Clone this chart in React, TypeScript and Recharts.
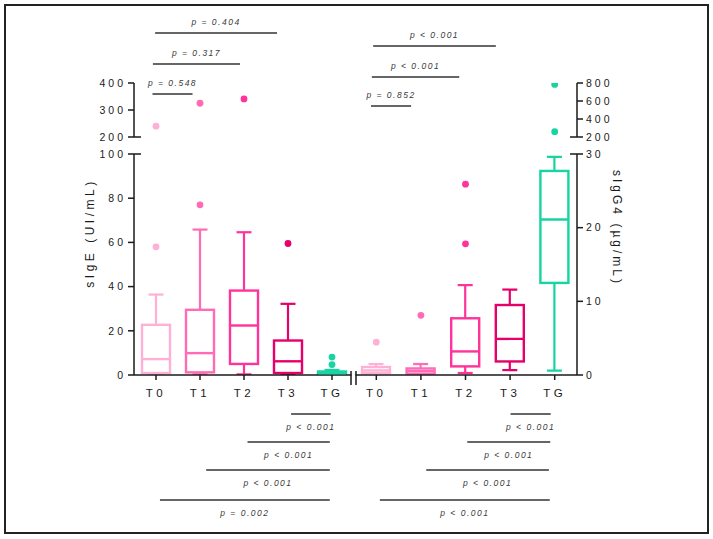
import React from 'react';
import { ComposedChart, Bar, Scatter, XAxis, YAxis, ReferenceLine } from 'recharts';

// ---------- data ----------
const categories = ['T0', 'T1', 'T2', 'T3', 'TG'];

// sIgE (UI/mL) – lower segment 0–100
const igeMin = [0, 0.3, 0.3, 0, 0];
const igeQ1 = [0.9, 1.2, 5.0, 0.9, 0.2];
const igeMedian = [7.2, 9.9, 22.4, 6.2, 0.8];
const igeQ3 = [22.7, 29.5, 38.2, 15.6, 1.6];
const igeMax = [36.4, 65.8, 64.6, 32.2, 2.3];
const igeOutlierA = [58, 77, null, 59.5, 8.1];
const igeOutlierB = [null, null, null, null, 4.7];
// sIgE – upper segment 200–400
const igeHighOutlier = [240, 325, 341, null, null];

// sIgG4 (µg/mL) – lower segment 0–30
const igg4Min = [0.27, 0.18, 0.27, 0.67, 0.6];
const igg4Q1 = [0.27, 0.18, 1.17, 1.84, 12.5];
const igg4Median = [0.62, 0.54, 3.2, 4.9, 21.1];
const igg4Q3 = [1.08, 0.89, 7.7, 9.5, 27.7];
const igg4Max = [1.49, 1.49, 12.2, 11.6, 29.6];
const igg4OutlierA = [4.46, 8.1, 25.9, null, null];
const igg4OutlierB = [null, null, 17.8, null, null];
// sIgG4 – upper segment 200–800
const igg4HighOutlierA = [null, null, null, null, 784];
const igg4HighOutlierB = [null, null, null, null, 259];

const igeLowerTicks = [0, 20, 40, 60, 80, 100];
const igeUpperTicks = [200, 300, 400];
const igg4LowerTicks = [0, 10, 20, 30];
const igg4UpperTicks = [200, 400, 600, 800];

// p-value annotations (x in category units, y = vertical level in px)
const annotLeft = [
  { from: -0.02, to: 2.75, y: 33, text: 'p = 0.404', above: true },
  { from: -0.07, to: 1.91, y: 64, text: 'p = 0.317', above: true },
  { from: -0.08, to: 0.83, y: 94, text: 'p = 0.548', above: true },
  { from: 3.07, to: 3.97, y: 414, text: 'p < 0.001', above: false },
  { from: 2.08, to: 3.95, y: 442, text: 'p < 0.001', above: false },
  { from: 1.14, to: 3.95, y: 470, text: 'p < 0.001', above: false },
  { from: 0.09, to: 3.95, y: 500, text: 'p = 0.002', above: false },
];
const annotRight = [
  { from: -0.07, to: 2.68, y: 46, text: 'p < 0.001', above: true },
  { from: -0.1, to: 1.86, y: 77, text: 'p < 0.001', above: true },
  { from: -0.12, to: 0.78, y: 106, text: 'p = 0.852', above: true },
  { from: 3.01, to: 3.91, y: 414, text: 'p < 0.001', above: false },
  { from: 2.04, to: 3.9, y: 442, text: 'p < 0.001', above: false },
  { from: 1.12, to: 3.87, y: 470, text: 'p < 0.001', above: false },
  { from: 0.08, to: 3.89, y: 500, text: 'p < 0.001', above: false },
];

// ---------- styling ----------
const W = 713;
const H = 539;
const FONT = '"Liberation Sans", Arial, Helvetica, sans-serif';
const AXIS = '#1a1a1a';
const boxColors = ['#FFB0D6', '#FF6CB5', '#FF3399', '#E6006B', '#17D4A2'];
const BAR = 30;
const CAP = 7.5;
const abs: React.CSSProperties = { position: 'absolute', left: 0, top: 0 };

const lowerRows = (min, q1, med, q3, max, oA, oB) =>
  categories.map((cat, i) => ({ cat, min: min[i], q1: q1[i], med: med[i], q3: q3[i], max: max[i], oA: oA[i], oB: oB[i] }));
const upperRows = (uA, uB) => categories.map((cat, i) => ({ cat, uA: uA[i], uB: uB ? uB[i] : null }));

const igeRows = lowerRows(igeMin, igeQ1, igeMedian, igeQ3, igeMax, igeOutlierA, igeOutlierB);
const igg4Rows = lowerRows(igg4Min, igg4Q1, igg4Median, igg4Q3, igg4Max, igg4OutlierA, igg4OutlierB);
const igeUpRows = upperRows(igeHighOutlier, null);
const igg4UpRows = upperRows(igg4HighOutlierA, igg4HighOutlierB);

const colorOf = (p: any) => boxColors[categories.indexOf(p?.cat)] ?? '#999';
const bad = (...v: any[]) => v.some((n) => n == null || Number.isNaN(n));

const HighWhisker = (props: any) => {
  const { x, y, width, height, payload } = props;
  if (bad(x, y, width, height)) return <g />;
  const top = Math.min(y, y + height);
  const bottom = Math.max(y, y + height);
  const cx = x + width / 2;
  const c = colorOf(payload);
  return (
    <g>
      <line x1={cx} x2={cx} y1={top} y2={bottom} stroke={c} strokeWidth={2.2} />
      <line x1={cx - CAP} x2={cx + CAP} y1={top} y2={top} stroke={c} strokeWidth={2.2} />
    </g>
  );
};
const LowWhisker = (props: any) => {
  const { x, y, width, height, payload } = props;
  if (bad(x, y, width, height)) return <g />;
  const top = Math.min(y, y + height);
  const bottom = Math.max(y, y + height);
  const cx = x + width / 2;
  const c = colorOf(payload);
  return (
    <g>
      <line x1={cx} x2={cx} y1={top} y2={bottom} stroke={c} strokeWidth={2.2} />
      <line x1={cx - CAP} x2={cx + CAP} y1={bottom} y2={bottom} stroke={c} strokeWidth={2.2} />
    </g>
  );
};
const BoxShape = (props: any) => {
  const { x, y, width, height, payload } = props;
  if (bad(x, y, width, height)) return <g />;
  const top = Math.min(y, y + height);
  const h = Math.abs(height);
  return <rect x={x + 1} y={top} width={width - 2} height={h} fill="#fff" stroke={colorOf(payload)} strokeWidth={2.4} />;
};
const MedianMark = (props: any) => {
  const { cx, cy, payload } = props;
  if (bad(cx, cy)) return <g />;
  return <line x1={cx - BAR / 2 + 1} x2={cx + BAR / 2 - 1} y1={cy} y2={cy} stroke={colorOf(payload)} strokeWidth={2.4} />;
};
const OutlierDot = (props: any) => {
  const { cx, cy, payload } = props;
  if (bad(cx, cy)) return <g />;
  return <circle cx={cx} cy={cy} r={3.4} fill={colorOf(payload)} />;
};

const TICK_SIZE = 6;
const makeYTick = (side: 'left' | 'right', margin: number, breaks: number[]) => (p: any) => {
  const { x, y, payload } = p;
  const axisX = side === 'left' ? x + TICK_SIZE + margin : x - TICK_SIZE - margin;
  const isBreak = breaks.includes(payload.value);
  return (
    <g>
      <text
        x={x}
        y={y}
        dy="0.36em"
        textAnchor={side === 'left' ? 'end' : 'start'}
        fill={AXIS}
        fontSize={10.5}
        fontFamily={FONT}
        letterSpacing={3}
      >
        {payload.value}
      </text>
      {isBreak && (
        <line
          x1={axisX}
          x2={side === 'left' ? axisX + 7 : axisX - 7}
          y1={y}
          y2={y}
          stroke={AXIS}
          strokeWidth={1.5}
        />
      )}
    </g>
  );
};

const axisLine = { stroke: AXIS, strokeWidth: 1.5 };

function LowerChart({ rows, side, domain, ticks, breaks }: any) {
  const left = side === 'left';
  const margin = left
    ? { top: 154, bottom: 134, left: 74, right: 359 }
    : { top: 154, bottom: 134, left: 354, right: 76 };
  const tm = left ? 2 : 3;
  return (
    <div style={abs}>
      <ComposedChart width={W} height={H} data={rows} margin={margin} barSize={BAR} barGap={-BAR}>
        <XAxis
          dataKey="cat"
          axisLine={axisLine}
          tickLine={axisLine}
          tickSize={5}
          tickMargin={9}
          height={30}
          interval={0}
          tick={{ fill: AXIS, fontSize: 11.5, fontFamily: FONT, letterSpacing: 3.5 }}
        />
        <YAxis
          orientation={side}
          type="number"
          width={60}
          domain={domain}
          ticks={ticks}
          interval={0}
          allowDataOverflow
          axisLine={axisLine}
          tickLine={axisLine}
          tickSize={TICK_SIZE}
          tickMargin={tm}
          tick={makeYTick(side, tm, breaks)}
        />
        <Bar dataKey={(d: any) => [d.min, d.q1]} shape={LowWhisker} isAnimationActive={false} />
        <Bar dataKey={(d: any) => [d.q3, d.max]} shape={HighWhisker} isAnimationActive={false} />
        <Bar dataKey={(d: any) => [d.q1, d.q3]} shape={BoxShape} isAnimationActive={false} />
        <Scatter dataKey="med" shape={MedianMark} isAnimationActive={false} />
        <Scatter dataKey="oA" shape={OutlierDot} isAnimationActive={false} />
        <Scatter dataKey="oB" shape={OutlierDot} isAnimationActive={false} />
      </ComposedChart>
    </div>
  );
}

function UpperChart({ rows, side, domain, ticks, breaks }: any) {
  const left = side === 'left';
  const margin = left
    ? { top: 83, bottom: 402, left: 74, right: 359 }
    : { top: 83, bottom: 402, left: 354, right: 76 };
  const tm = left ? 2 : 3;
  return (
    <div style={abs}>
      <ComposedChart width={W} height={H} data={rows} margin={margin}>
        <XAxis dataKey="cat" scale="band" hide />
        <YAxis
          orientation={side}
          type="number"
          width={60}
          domain={domain}
          ticks={ticks}
          interval={0}
          allowDataOverflow
          axisLine={axisLine}
          tickLine={axisLine}
          tickSize={TICK_SIZE}
          tickMargin={tm}
          tick={makeYTick(side, tm, breaks)}
        />
        <Scatter dataKey="uA" shape={OutlierDot} isAnimationActive={false} />
        <Scatter dataKey="uB" shape={OutlierDot} isAnimationActive={false} />
      </ComposedChart>
    </div>
  );
}

function Annotations({ items, side }: any) {
  const margin =
    side === 'left' ? { top: 0, bottom: 0, left: 134, right: 359 } : { top: 0, bottom: 0, left: 354, right: 136 };
  return (
    <div style={abs}>
      <ComposedChart width={W} height={H} margin={margin} data={[{ x: 0, y: 0 }]}>
        <XAxis type="number" dataKey="x" domain={[-0.5, 4.5]} allowDataOverflow hide />
        <YAxis type="number" dataKey="y" domain={[0, H]} reversed allowDataOverflow hide />
        {items.map((a: any, i: number) => (
          <ReferenceLine
            key={i}
            segment={[
              { x: a.from, y: a.y },
              { x: a.to, y: a.y },
            ]}
            stroke="#333"
            strokeWidth={1.5}
            ifOverflow="visible"
            label={{
              value: a.text,
              position: a.above ? 'top' : 'bottom',
              offset: a.above ? 8 : 10,
              fill: '#3a3a3a',
              fontSize: 8.5,
              fontStyle: 'italic',
              fontFamily: FONT,
              letterSpacing: 1.5,
            }}
          />
        ))}
      </ComposedChart>
    </div>
  );
}

export default function App() {
  return (
    <div style={{ position: 'absolute', left: 0, top: 0, width: W, height: H, background: '#fff', overflow: 'hidden' }}>
      <div
        style={{
          position: 'absolute',
          left: 4,
          top: 4,
          width: 705,
          height: 530,
          border: '2px solid #222',
          boxSizing: 'border-box',
        }}
      />
      <LowerChart rows={igeRows} side="left" domain={[0, 100]} ticks={igeLowerTicks} breaks={[100]} />
      <LowerChart rows={igg4Rows} side="right" domain={[0, 30]} ticks={igg4LowerTicks} breaks={[30]} />
      <UpperChart rows={igeUpRows} side="left" domain={[200, 400]} ticks={igeUpperTicks} breaks={[200]} />
      <UpperChart rows={igg4UpRows} side="right" domain={[200, 800]} ticks={igg4UpperTicks} breaks={[200]} />
      <Annotations items={annotLeft} side="left" />
      <Annotations items={annotRight} side="right" />
      <svg width={W} height={H} style={{ ...abs, pointerEvents: 'none' }}>
        <text
          transform="translate(90,233) rotate(-90)"
          textAnchor="middle"
          dy="0.35em"
          fontSize={12}
          fontFamily={FONT}
          letterSpacing={3.5}
          fill={AXIS}
        >
          sIgE (UI/mL)
        </text>
        <text
          transform="translate(617,228) rotate(90)"
          textAnchor="middle"
          dy="0.35em"
          fontSize={12}
          fontFamily={FONT}
          letterSpacing={3}
          fill={AXIS}
        >
          sIgG4 (µg/mL)
        </text>
        <rect x={351.5} y={372} width={4} height={8} fill="#fff" />
        <line x1={351} x2={351} y1={371} y2={385} stroke={AXIS} strokeWidth={1.5} />
        <line x1={356} x2={356} y1={371} y2={385} stroke={AXIS} strokeWidth={1.5} />
      </svg>
    </div>
  );
}
